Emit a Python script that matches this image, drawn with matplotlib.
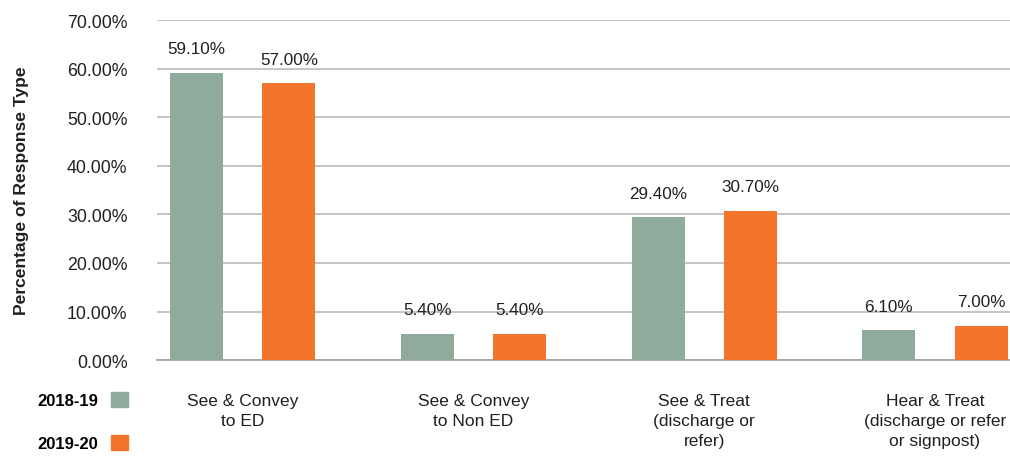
import numpy as np
import matplotlib.pyplot as plt
from matplotlib.patches import Patch

plt.rcParams['font.family'] = ['Liberation Sans', 'DejaVu Sans']

categories = ['See & Convey\nto ED', 'See & Convey\nto Non ED',
              'See & Treat\n(discharge or\nrefer)',
              'Hear & Treat\n(discharge or refer\nor signpost)']
series_names = ['2018-19', '2019-20']
v2018 = [59.10, 5.40, 29.40, 6.10]
v2020 = [57.00, 5.40, 30.70, 7.00]
yticks = [0, 10, 20, 30, 40, 50, 60, 70]

col_a = '#8fab9b'
col_b = '#f4742b'
txt = '#231f20'

fig = plt.figure(figsize=(10.1, 4.6), dpi=100)
ax = fig.add_axes([0.155, 0.215, 0.845, 0.739])

x = np.arange(len(categories))
w = 0.23
b1 = ax.bar(x - 0.2, v2018, w, color=col_a, zorder=3)
b2 = ax.bar(x + 0.2, v2020, w, color=col_b, zorder=3)

for bars, vals in ((b1, v2018), (b2, v2020)):
    for r, v in zip(bars, vals):
        ax.annotate('%.2f%%' % v, (r.get_x() + r.get_width() / 2, v),
                    xytext=(0, 12), textcoords='offset points',
                    ha='center', va='bottom', fontsize=12.3, color=txt)

ax.set_xlim(-0.373, 3.325)
ax.set_ylim(0, 70)
ax.set_yticks(yticks)
ax.set_yticklabels(['%.2f%%' % t for t in yticks], fontsize=12.8, color=txt)
ax.set_xticks(x)
ax.set_xticklabels(categories, fontsize=12.5, color=txt, linespacing=1.4, va='top')
ax.tick_params(axis='both', length=0)
ax.tick_params(axis='x', pad=24)
ax.tick_params(axis='y', pad=21)
ax.grid(axis='y', color='#c0c0c0', linewidth=1.3, zorder=0)
for s in ['top', 'right', 'left']:
    ax.spines[s].set_visible(False)
ax.spines['bottom'].set_color('#a6a6a6')
ax.spines['bottom'].set_linewidth(1.3)

ax.set_ylabel('Percentage of Response Type', fontsize=12.6, fontweight='bold',
              color=txt)
ax.yaxis.set_label_coords(-0.150, 0.5)

handles = [Patch(color=col_a), Patch(color=col_b)]
fig.legend(handles, series_names, markerfirst=False, frameon=False,
           loc='upper right', bbox_to_anchor=(136 / 1010, 1 - 385 / 460),
           borderpad=0, handlelength=1.0, handleheight=1.0,
           handletextpad=0.75, labelspacing=1.6,
           prop={'weight': 'bold', 'size': 12})

fig.savefig('out.png', dpi=100)
